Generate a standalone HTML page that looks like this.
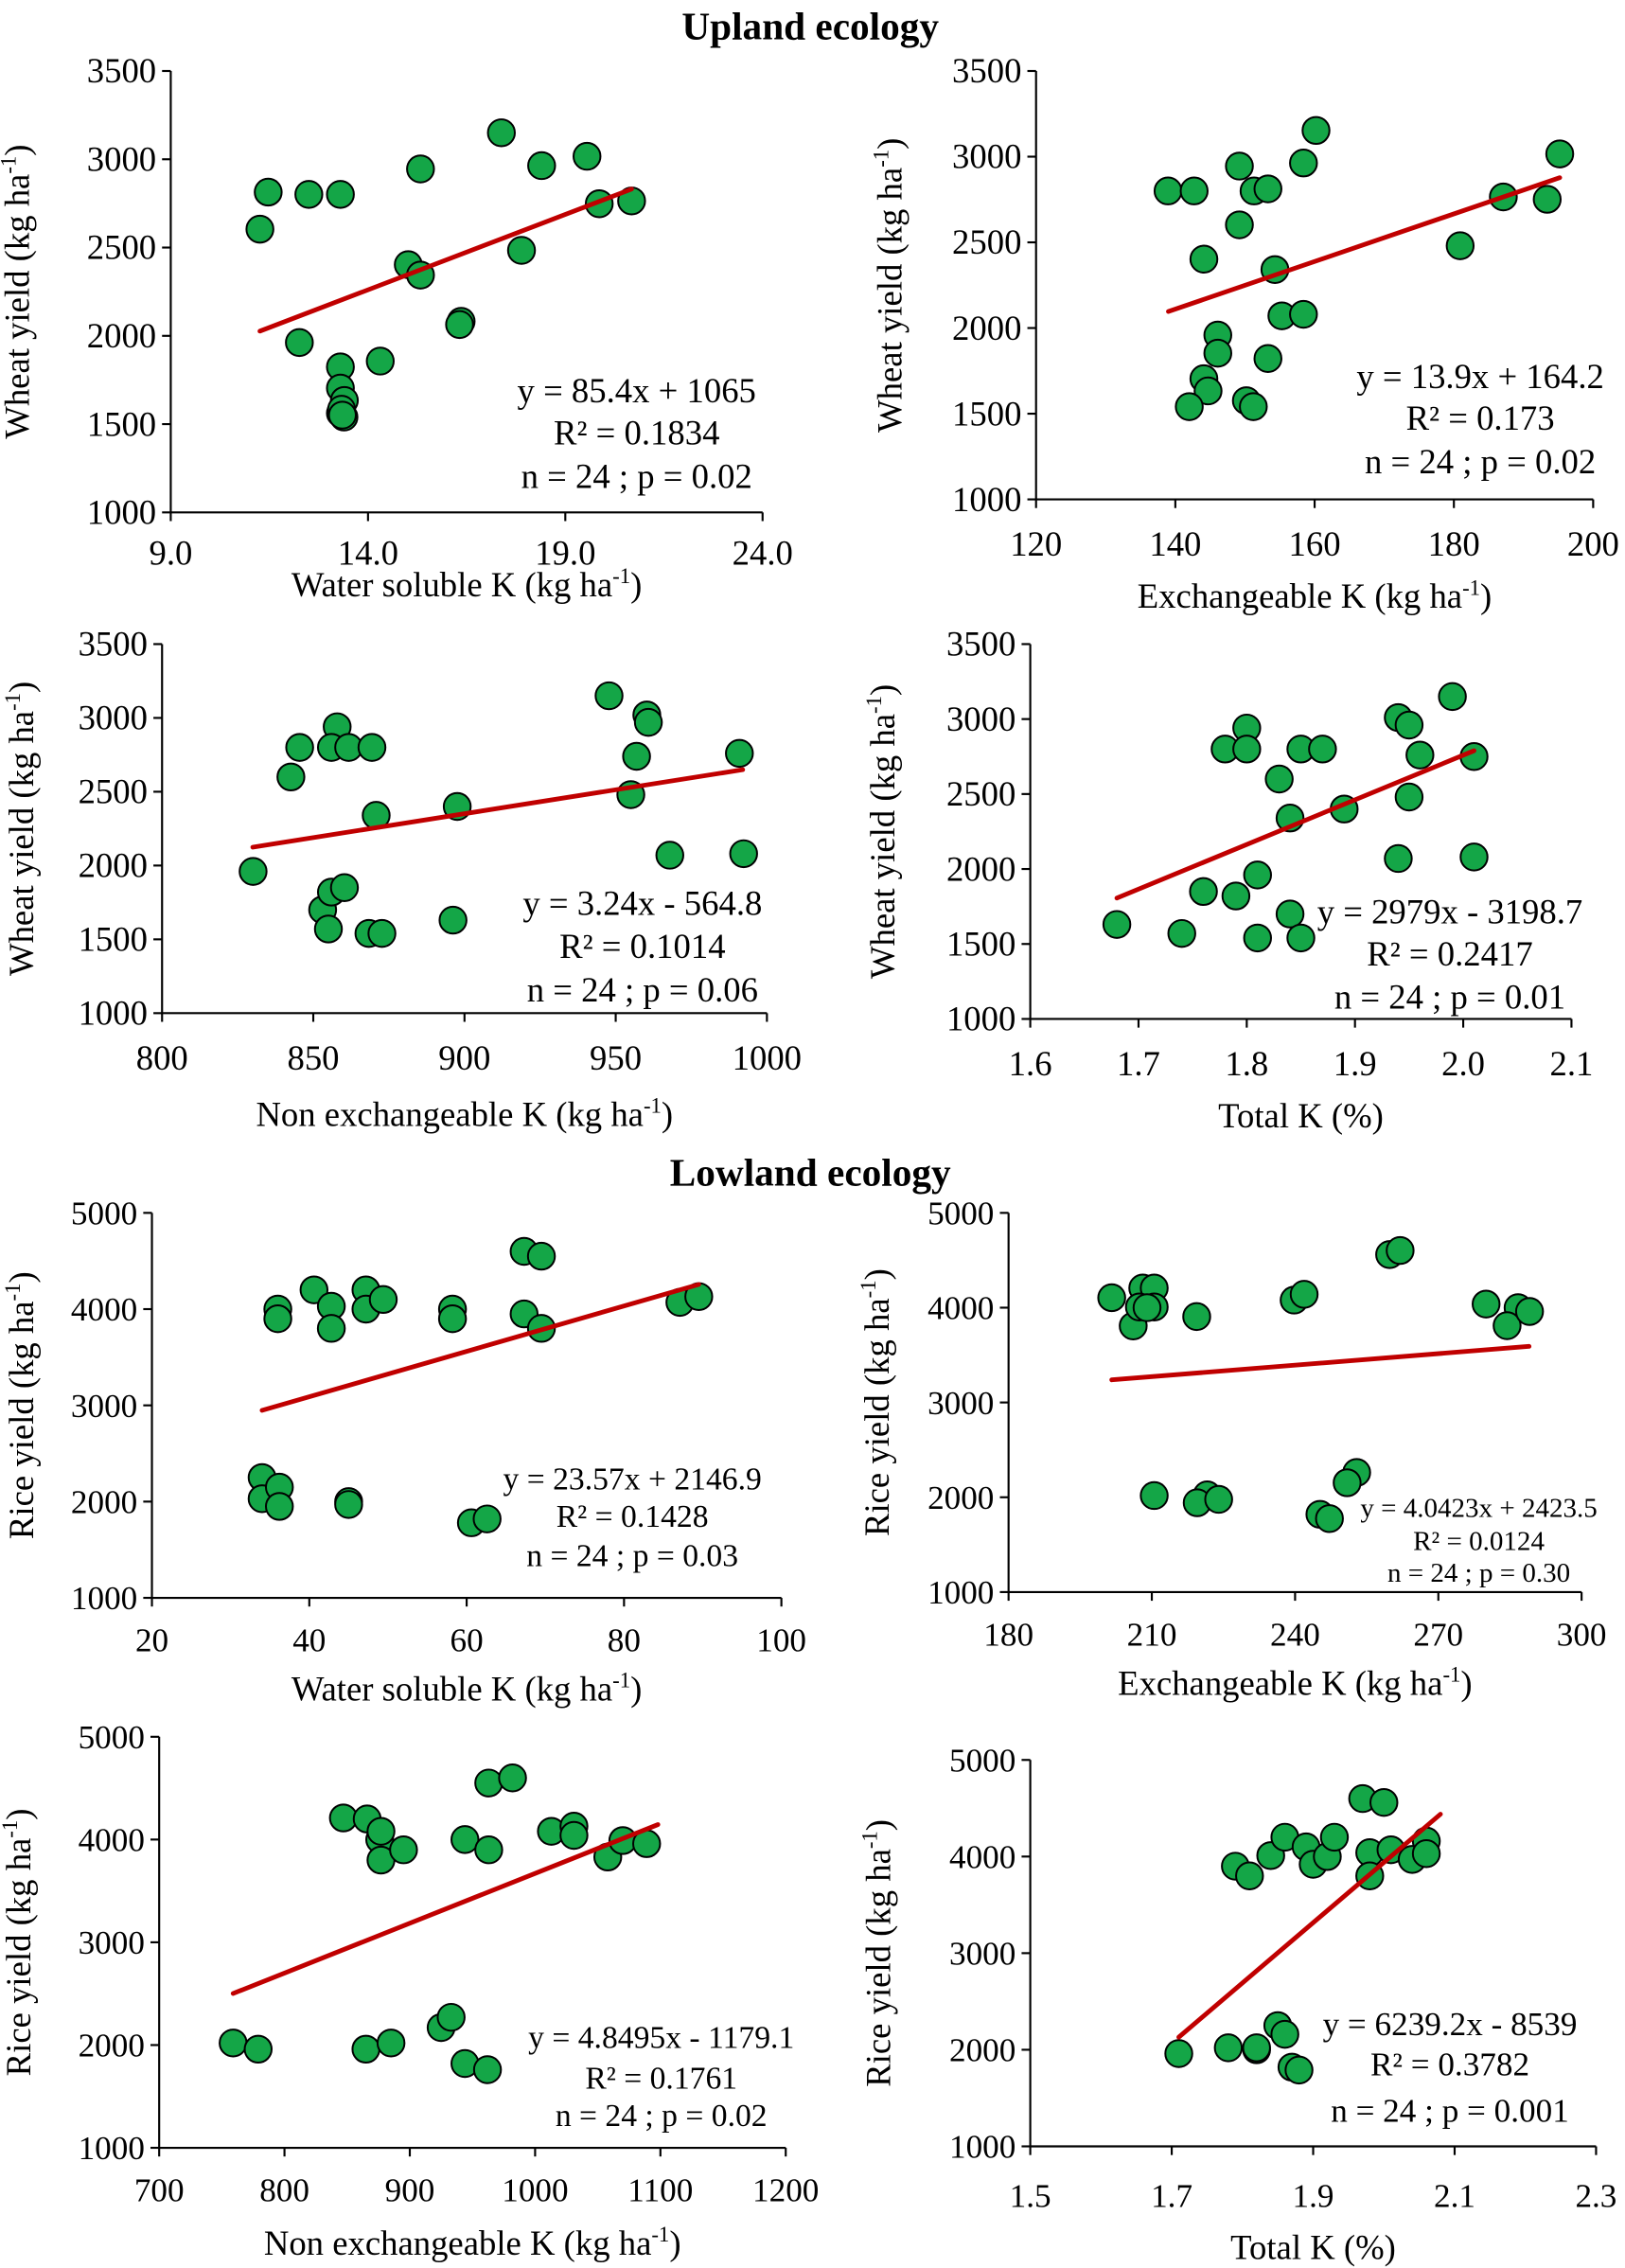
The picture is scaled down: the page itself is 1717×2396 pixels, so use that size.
<!DOCTYPE html>
<html><head><meta charset="utf-8"><style>
html,body{margin:0;padding:0;background:#fff}
svg{display:block}
svg text{font-family:"Liberation Serif",serif;fill:#000}
</style></head><body>
<svg id="fig" width="1717" height="2396" viewBox="0 0 1123 1567" xmlns="http://www.w3.org/2000/svg" font-family="Liberation Serif, serif">
<rect width="1123" height="1567" fill="#fff"/>
<text x="560" y="27" text-anchor="middle" font-weight="bold" font-size="27" font-family="Liberation Serif, serif">Upland ecology</text>
<text x="560" y="819" text-anchor="middle" font-weight="bold" font-size="27" font-family="Liberation Serif, serif">Lowland ecology</text>
</svg>
<script>
// Panel 1: upland water soluble K
const p1X=[11.26,11.47,12.5,13.3,12.26,13.3,13.3,13.3,13.39,13.4,13.33,13.35,14.31,15.02,15.33,15.33,16.36,16.32,17.38,17.89,18.4,19.55,19.86,20.68];
const p1Y=[2604,2814,2801,2801,1962,1824,1704,1562,1540,1634,1584,1551,1857,2403,2344,2945,2082,2064,3150,2484,2964,3017,2748,2764];
const p1XTicks=[9,14,19,24];const p1XLabels=["9.0","14.0","19.0","24.0"];
const p1YTicks=[1000,1500,2000,2500,3000,3500];
const p1Fit=[85.4,1065];const p1FitRange=[11.26,20.68];
const p1Eq=["y = 85.4x + 1065","R² = 0.1834","n = 24 ; p = 0.02"];
// Panel 2: upland exchangeable K
const p2X=[138.95,142.7,149.2,151.3,153.3,158.4,160.2,149.2,144.1,154.3,155.3,158.4,146.1,146.1,153.3,144.1,144.7,142.0,150.2,151.2,180.9,187.1,193.4,195.2];
const p2Y=[2800,2800,2945,2800,2812,2963,3153,2602,2402,2341,2071,2080,1959,1853,1822,1704,1633,1541,1576,1541,2480,2765,2751,3016];
const p2XTicks=[120,140,160,180,200];const p2XLabels=["120","140","160","180","200"];
const p2YTicks=[1000,1500,2000,2500,3000,3500];
const p2Fit=[13.9,164.2];const p2FitRange=[139,195.2];
const p2Eq=["y = 13.9x + 164.2","R² = 0.173","n = 24 ; p = 0.02"];
// Panel 3: upland non exchangeable K
const p3X=[830.1,842.6,845.5,857.9,856.0,861.7,869.4,870.8,853.1,856,855,860.3,868.4,872.7,897.6,896.2,947.8,956.9,960.3,960.8,955,967.9,990.9,992.3];
const p3Y=[1960,2600,2800,2940,2800,2800,2800,2340,1700,1820,1570,1850,1540,1540,2400,1630,3150,2740,3020,2970,2480,2070,2760,2080];
const p3XTicks=[800,850,900,950,1000];const p3XLabels=["800","850","900","950","1000"];
const p3YTicks=[1000,1500,2000,2500,3000,3500];
const p3Fit=[3.24,-564.8];const p3FitRange=[830,992];
const p3Eq=["y = 3.24x - 564.8","R² = 0.1014","n = 24 ; p  = 0.06"];
// Panel 4: upland total K
const p4X=[1.68,1.74,1.76,1.78,1.79,1.80,1.80,1.81,1.81,1.83,1.84,1.84,1.85,1.85,1.87,1.89,1.94,1.94,1.95,1.95,1.96,1.99,2.01,2.01];
const p4Y=[1630,1570,1850,2800,1820,2940,2800,1960,1540,2600,2340,1700,1540,2800,2800,2400,3010,2070,2960,2480,2760,3150,2750,2080];
const p4XTicks=[1.6,1.7,1.8,1.9,2.0,2.1];const p4XLabels=["1.6","1.7","1.8","1.9","2.0","2.1"];
const p4YTicks=[1000,1500,2000,2500,3000,3500];
const p4Fit=[2979,-3198.7];const p4FitRange=[1.68,2.01];
const p4Eq=["y = 2979x - 3198.7","R² = 0.2417","n = 24 ; p = 0.01"];
// Panel 5: lowland water soluble K
const p5X=[34,34,36.2,36.2,36,36,40.6,42.8,42.8,45,45,47.2,47.2,49.4,58.2,58.2,60.6,62.6,67.3,67.3,69.5,69.5,87.1,89.5];
const p5Y=[2250,2030,2150,1950,4000,3900,4200,4030,3800,2000,1970,4200,4000,4100,4000,3900,1780,1820,4600,3950,4550,3800,4070,4130];
const p5XTicks=[20,40,60,80,100];const p5XLabels=["20","40","60","80","100"];
const p5YTicks=[1000,2000,3000,4000,5000];
const p5Fit=[23.57,2146.9];const p5FitRange=[34,89.5];
const p5Eq=["y = 23.57x + 2146.9","R² = 0.1428","n = 24 ; p = 0.03"];
// Panel 6: lowland exchangeable K
const p6X=[201.6,206.1,208.1,210.5,207.4,210.5,209,219.4,210.5,221.6,219.5,224,239.8,241.9,259.8,262,245.2,247.2,252.9,250.9,280,286.7,284.4,289.1];
const p6Y=[4105,3807,4207,4207,4007,4007,4000,3906,2018,2025,1942,1978,4080,4141,4560,4603,1820,1775,2261,2153,4038,4000,3810,3960];
const p6XTicks=[180,210,240,270,300];const p6XLabels=["180","210","240","270","300"];
const p6YTicks=[1000,2000,3000,4000,5000];
const p6Fit=[4.0423,2423.5];const p6FitRange=[201.6,289];
const p6Eq=["y = 4.0423x + 2423.5","R² = 0.0124","n = 24 ; p = 0.30"];
// Panel 7: lowland non exchangeable K
const p7X=[759,779,847,866,865,876,877,877,885,895,925,933,944,962,944,963,963,982,1013,1031,1031,1058,1070,1089];
const p7Y=[2020,1960,4210,4200,1960,4000,3800,4080,2020,3900,2170,2270,1820,1760,4000,3900,4550,4600,4080,4130,4040,3830,3990,3960];
const p7XTicks=[700,800,900,1000,1100,1200];const p7XLabels=["700","800","900","1000","1100","1200"];
const p7YTicks=[1000,2000,3000,4000,5000];
const p7Fit=[4.8495,-1179.1];const p7FitRange=[759,1098];
const p7Eq=["y = 4.8495x - 1179.1","R² = 0.1761","n = 24 ; p = 0.02"];
// Panel 8: lowland total K
const p8X=[1.71,1.78,1.79,1.81,1.82,1.84,1.82,1.85,1.86,1.86,1.87,1.88,1.89,1.90,1.92,1.93,1.97,1.98,1.98,2.00,2.01,2.04,2.06,2.06];
const p8Y=[1960,2020,3900,3800,2000,4010,2020,2250,2160,4200,1820,1790,4100,3920,4000,4200,4600,4040,3800,4560,4070,3970,4160,4030];
const p8XTicks=[1.5,1.7,1.9,2.1,2.3];const p8XLabels=["1.5","1.7","1.9","2.1","2.3"];
const p8YTicks=[1000,2000,3000,4000,5000];
const p8Fit=[6239.2,-8539];const p8FitRange=[1.71,2.08];
const p8Eq=["y = 6239.2x - 8539","R² = 0.3782","n = 24 ; p = 0.001"];

const NS="http://www.w3.org/2000/svg";
const svg=document.getElementById('fig');
function mk(tag,attrs,parent){const e=document.createElementNS(NS,tag);for(const k in attrs)e.setAttribute(k,attrs[k]);(parent||svg).appendChild(e);return e;}
function unitText(parent,x,y,pre,post,fs,rot,name){
  const t=mk('text',{x:x,y:y,'text-anchor':'middle','font-size':fs,'font-family':'Liberation Serif, serif'},parent);
  
  
  if(rot)t.setAttribute('transform','rotate(-90 '+x+' '+y+')');
  t.appendChild(document.createTextNode(pre));
  const s=mk('tspan',{dy:-fs*0.38,'font-size':fs*0.62},t);s.textContent='-1';
  const s2=mk('tspan',{dy:fs*0.38},t);s2.textContent=post;
  return t;
}
const panels=[
 {id:'p1',X:p1X,Y:p1Y,xt:p1XTicks,xl:p1XLabels,yt:p1YTicks,fit:p1Fit,fr:p1FitRange,eq:p1Eq,x0:118,x1:527,yTop:49,yBot:354,ylab:'Wheat yield (kg ha',ylx:20,xtitle:['Water soluble K (kg ha',')'],xty:412,eqx:440,eqy:[278,307,337],efs:24,tly:390,tfs:24},
 {id:'p2',X:p2X,Y:p2Y,xt:p2XTicks,xl:p2XLabels,yt:p2YTicks,fit:p2Fit,fr:p2FitRange,eq:p2Eq,x0:716,x1:1101,yTop:49,yBot:345,ylab:'Wheat yield (kg ha',ylx:623,xtitle:['Exchangeable K (kg ha',')'],xty:420,eqx:1023,eqy:[268,297,327],efs:24,tly:384,tfs:24},
 {id:'p3',X:p3X,Y:p3Y,xt:p3XTicks,xl:p3XLabels,yt:p3YTicks,fit:p3Fit,fr:p3FitRange,eq:p3Eq,x0:112,x1:530,yTop:445,yBot:700,ylab:'Wheat yield (kg ha',ylx:23,xtitle:['Non exchangeable K (kg ha',')'],xty:778,eqx:444,eqy:[632,662,692],efs:24,tly:739,tfs:24},
 {id:'p4',X:p4X,Y:p4Y,xt:p4XTicks,xl:p4XLabels,yt:p4YTicks,fit:p4Fit,fr:p4FitRange,eq:p4Eq,x0:712,x1:1086,yTop:445,yBot:704,ylab:'Wheat yield (kg ha',ylx:618,xtitle:['Total K (%)',''],xty:779,eqx:1002,eqy:[638,667,697],efs:24,tly:743,tfs:24},
 {id:'p5',X:p5X,Y:p5Y,xt:p5XTicks,xl:p5XLabels,yt:p5YTicks,fit:p5Fit,fr:p5FitRange,eq:p5Eq,x0:105,x1:540,yTop:838,yBot:1104,ylab:'Rice yield (kg ha',ylx:23,xtitle:['Water soluble K (kg ha',')'],xty:1175,eqx:437,eqy:[1029,1055,1082],efs:22,tly:1141,tfs:23},
 {id:'p6',X:p6X,Y:p6Y,xt:p6XTicks,xl:p6XLabels,yt:p6YTicks,fit:p6Fit,fr:p6FitRange,eq:p6Eq,x0:697,x1:1093,yTop:838,yBot:1100,ylab:'Rice yield (kg ha',ylx:614,xtitle:['Exchangeable K (kg ha',')'],xty:1171,eqx:1022,eqy:[1048,1071,1093],efs:19,tly:1137,tfs:23},
 {id:'p7',X:p7X,Y:p7Y,xt:p7XTicks,xl:p7XLabels,yt:p7YTicks,fit:p7Fit,fr:p7FitRange,eq:p7Eq,x0:110,x1:543,yTop:1200,yBot:1484,ylab:'Rice yield (kg ha',ylx:21,xtitle:['Non exchangeable K (kg ha',')'],xty:1558,eqx:457,eqy:[1415,1443,1469],efs:22,tly:1521,tfs:23},
 {id:'p8',X:p8X,Y:p8Y,xt:p8XTicks,xl:p8XLabels,yt:p8YTicks,fit:p8Fit,fr:p8FitRange,eq:p8Eq,x0:712,x1:1103,yTop:1216,yBot:1483,ylab:'Rice yield (kg ha',ylx:615,xtitle:['Total K (%)',''],xty:1561,eqx:1002,eqy:[1406,1434,1466],efs:23,tly:1525,tfs:23}
];
panels.forEach(function(P){
  const g=mk('g',{'font-family':'Liberation Serif, serif'});
  
  
  const xmin=P.xt[0],xmax=P.xt[P.xt.length-1],ymin=P.yt[0],ymax=P.yt[P.yt.length-1];
  const sx=v=>P.x0+(v-xmin)/(xmax-xmin)*(P.x1-P.x0);
  const sy=v=>P.yBot-(v-ymin)/(ymax-ymin)*(P.yBot-P.yTop);
  const ax=mk('path',{d:'M'+P.x0+' '+P.yTop+' V'+P.yBot+' H'+P.x1,stroke:'#000','stroke-width':1.4,fill:'none'},g);
  
  
  P.yt.forEach(function(v){
    mk('line',{x1:P.x0-6,x2:P.x0,y1:sy(v),y2:sy(v),stroke:'#000','stroke-width':1.4},g);
    const t=mk('text',{x:P.x0-10,y:sy(v)+8,'text-anchor':'end','font-size':P.tfs},g);
    
    
    t.textContent=v;
  });
  P.xt.forEach(function(v,i){
    mk('line',{x1:sx(v),x2:sx(v),y1:P.yBot,y2:P.yBot+6,stroke:'#000','stroke-width':1.4},g);
    const t=mk('text',{x:sx(v),y:P.tly,'text-anchor':'middle','font-size':P.tfs},g);
    
    
    t.textContent=P.xl[i];
  });
  P.X.forEach(function(v,i){
    const c=mk('circle',{cx:sx(v),cy:sy(P.Y[i]),r:9.3,fill:'#14a647',stroke:'#000','stroke-width':1.3},g);
    
    
  });
  const ln=mk('line',{x1:sx(P.fr[0]),y1:sy(P.fit[0]*P.fr[0]+P.fit[1]),x2:sx(P.fr[1]),y2:sy(P.fit[0]*P.fr[1]+P.fit[1]),stroke:'#c00000','stroke-width':3.2,'stroke-linecap':'round'},g);
  
  
  P.eq.forEach(function(s,i){
    const t=mk('text',{x:P.eqx,y:P.eqy[i],'text-anchor':'middle','font-size':P.efs},g);
    
    
    t.textContent=s;
  });
  const cy=(P.yTop+P.yBot)/2;
  unitText(g,P.ylx,cy,P.ylab,')',24,true,'y-axis-title');
  if(P.xtitle[1]===''){
    const t=mk('text',{x:(P.x0+P.x1)/2,y:P.xty,'text-anchor':'middle','font-size':24},g);
    
    
    t.textContent=P.xtitle[0];
  } else {
    unitText(g,(P.x0+P.x1)/2,P.xty,P.xtitle[0],P.xtitle[1],24,false,'x-axis-title');
  }
});
</script>
</body></html>
